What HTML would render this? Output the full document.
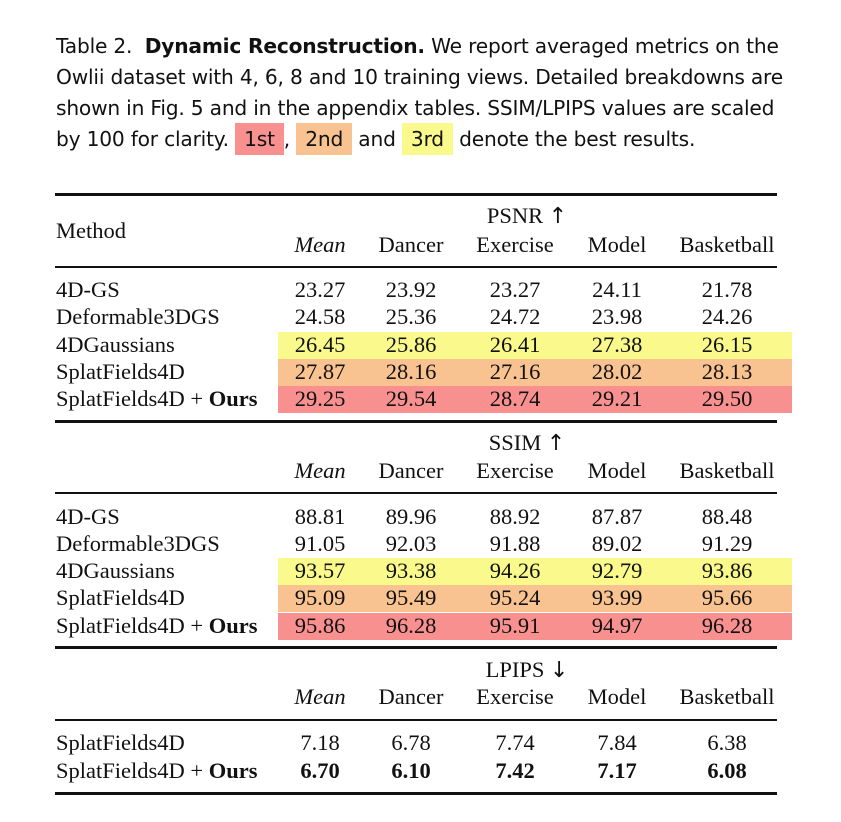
<!DOCTYPE html>
<html><head><meta charset="utf-8"><style>
body{margin:0;width:841px;height:822px;background:#fff;position:relative;overflow:hidden;color:#111}
.cap{position:absolute;left:56px;font-family:"DejaVu Sans","Liberation Sans",sans-serif;font-size:20.2px;line-height:31px;white-space:nowrap;letter-spacing:-0.2px}
.hl{padding:4px 9px}
.t{position:absolute;font-family:"Liberation Serif",serif;font-size:22.5px;white-space:nowrap;transform:translateY(-50%)}
.c{transform:translate(-50%,-50%)}
.rule{position:absolute;left:55px;width:722px;background:#111}
.band{position:absolute;left:278px;width:514px}
.arr{font-family:"DejaVu Sans",sans-serif;font-size:22px}
</style></head><body>
<div class="cap" style="top:31px">Table 2.&nbsp; <b>Dynamic Reconstruction.</b> We report averaged metrics on the<br>Owlii dataset with 4, 6, 8 and 10 training views. Detailed breakdowns are<br>shown in Fig. 5 and in the appendix tables. SSIM/LPIPS values are scaled<br>by 100 for clarity. <span class="hl" style="background:#f99090">1st</span>, <span class="hl" style="background:#f9c391">2nd</span> and <span class="hl" style="background:#fafa8c">3rd</span> denote the best results.</div>
<div id="tbl"></div>
<script>
const methods=["4D-GS","Deformable3DGS","4DGaussians","SplatFields4D","SplatFields4D + <b>Ours</b>"];
const cols=["<i>Mean</i>","Dancer","Exercise","Model","Basketball"];
const psnr=[["23.27","23.92","23.27","24.11","21.78"],["24.58","25.36","24.72","23.98","24.26"],["26.45","25.86","26.41","27.38","26.15"],["27.87","28.16","27.16","28.02","28.13"],["29.25","29.54","28.74","29.21","29.50"]];
const ssim=[["88.81","89.96","88.92","87.87","88.48"],["91.05","92.03","91.88","89.02","91.29"],["93.57","93.38","94.26","92.79","93.86"],["95.09","95.49","95.24","93.99","95.66"],["95.86","96.28","95.91","94.97","96.28"]];
const lpipsM=["SplatFields4D","SplatFields4D + <b>Ours</b>"];
const lpips=[["7.18","6.78","7.74","7.84","6.38"],["<b>6.70</b>","<b>6.10</b>","<b>7.42</b>","<b>7.17</b>","<b>6.08</b>"]];
const bandColors=[null,null,"#fafa8c","#f9c391","#f99090"];
const colX=[320,411,515,617,727];
const T=document.getElementById('tbl');
function txt(html,x,y,center,name){const d=document.createElement('div');d.className='t'+(center?' c':'');d.style.left=x+'px';d.style.top=y+'px';d.innerHTML=html;


T.appendChild(d);}
function rule(y,h){const d=document.createElement('div');d.className='rule';d.style.top=y+'px';d.style.height=h+'px';


T.appendChild(d);}
function band(y,color){const d=document.createElement('div');d.className='band';d.style.top=(y-13.5)+'px';d.style.height='27px';d.style.background=color;


T.appendChild(d);}
function section(title,hy,sy,rowY,names,vals,bands){
  txt(title,527,hy,true,'metric-header');
  cols.forEach((c,i)=>txt(c,colX[i],sy,true,'column-header'));
  names.forEach((m,r)=>{if(bands&&bands[r])band(rowY[r],bands[r]);
    txt(m,56,rowY[r],false,'method-name');
    vals[r].forEach((v,i)=>txt(v,colX[i],rowY[r],true,'cell-value'));});
}
rule(193,3);
txt("Method",56,231,false,'method-header');
section('PSNR <span class="arr">↑</span>',216,245,[290,317,345,372,399],methods,psnr,bandColors);
rule(266,1.5);
rule(420,2.5);
section('SSIM <span class="arr">↑</span>',443,471,[517,544,571,598,626],methods,ssim,bandColors);
rule(492,2);
rule(646,2.5);
section('LPIPS <span class="arr">↓</span>',670,697,[743,771],lpipsM,lpips,null);
rule(719,2);
rule(792,3);
</script>
</body></html>
